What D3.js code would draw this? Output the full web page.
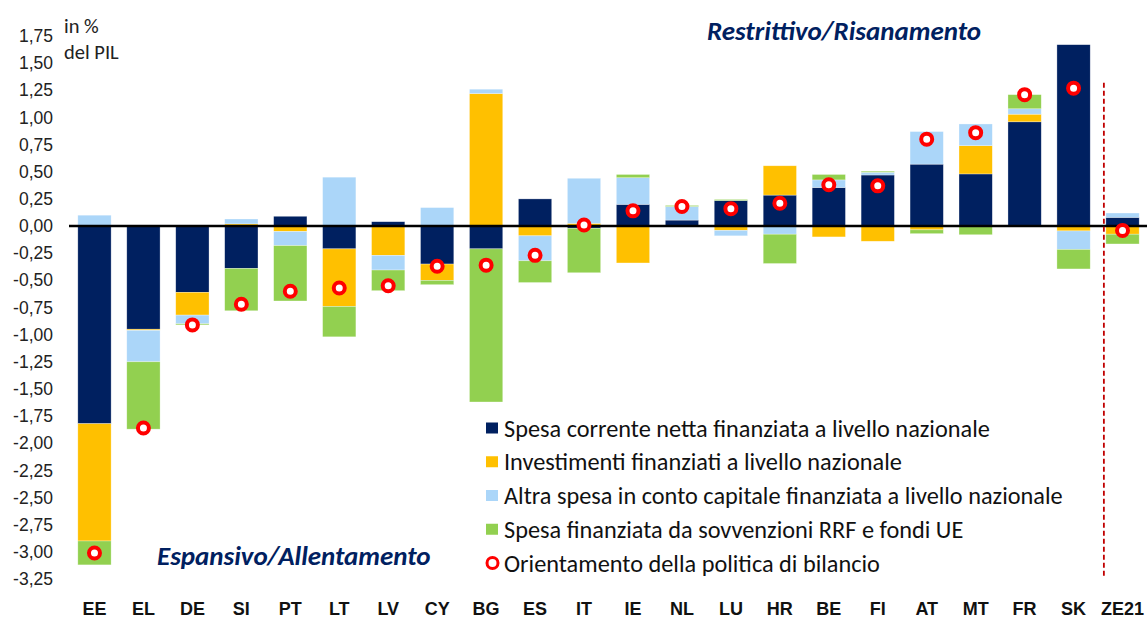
<!DOCTYPE html>
<html>
<head>
<meta charset="utf-8">
<script src="https://cdn.jsdelivr.net/npm/d3@7"></script>
<style>
  body { margin: 0; background: #fff; }
  svg { display: block; font-family: Carlito, Lato, "Liberation Sans", sans-serif; }
</style>
</head>
<body>
<svg id="grafica" width="1147" height="619"></svg>
<script>
// paesi
var categories = ["EE","EL","DE","SI","PT","LT","LV","CY","BG","ES","IT","IE","NL","LU","HR","BE","FI","AT","MT","FR","SK","ZE21"];

// componenti (in % del PIL)
var spesaCorrente = [-1.82,-0.95,-0.61,-0.39,0.09,-0.21,0.04,-0.35,-0.21,0.25,-0.02,0.20,0.055,0.235,0.285,0.355,0.47,0.57,0.48,0.96,1.67,0.08];
var investimenti  = [-1.08,-0.01,-0.21,0.02,-0.05,-0.53,-0.27,-0.15,1.22,-0.09,0.025,-0.34,0,-0.04,0.27,-0.10,-0.14,-0.035,0.26,0.07,-0.045,-0.075];
var altraSpesa    = [0.10,-0.29,-0.08,0.045,-0.13,0.45,-0.135,0.17,0.04,-0.23,0.415,0.245,0.125,-0.05,-0.075,0.07,0.025,0.30,0.20,0.05,-0.17,0.04];
var spesaRRF      = [-0.22,-0.62,-0.01,-0.39,-0.51,-0.28,-0.19,-0.04,-1.41,-0.20,-0.41,0.03,0.01,0.01,-0.27,0.05,0.01,-0.035,-0.08,0.13,-0.18,-0.09];
var orientamento  = [-3.01,-1.86,-0.91,-0.72,-0.60,-0.57,-0.55,-0.37,-0.36,-0.27,0.01,0.14,0.18,0.16,0.21,0.38,0.37,0.80,0.86,1.21,1.27,-0.04];

var seriesNames = [
  "Spesa corrente netta finanziata a livello nazionale",
  "Investimenti finanziati a livello nazionale",
  "Altra spesa in conto capitale finanziata a livello nazionale",
  "Spesa finanziata da sovvenzioni RRF e fondi UE"
];
var stanceName = "Orientamento della politica di bilancio";
var yTicks = [1.75,1.5,1.25,1,0.75,0.5,0.25,0,-0.25,-0.5,-0.75,-1,-1.25,-1.5,-1.75,-2,-2.25,-2.5,-2.75,-3,-3.25];

var colors = ["#002060", "#ffc000", "#abd6f9", "#92d050"];
var keys = ["s0","s1","s2","s3"];

var data = categories.map(function(c, i) {
  return { name: c, s0: spesaCorrente[i], s1: investimenti[i], s2: altraSpesa[i], s3: spesaRRF[i], stance: orientamento[i] };
});

var width = 1147, height = 619;
var svg = d3.select("#grafica");
svg.append("rect").attr("width", width).attr("height", height).attr("fill", "#fff");

var x = d3.scaleBand().domain(categories).range([70, 1147]).paddingInner(0.32).paddingOuter(0.16);
var y = d3.scaleLinear().domain([-3.25, 1.75]).range([579, 36]);

var itFormat = d3.formatLocale({ decimal: ",", thousands: ".", grouping: [3], currency: ["", "€"], minus: "-" }).format(".2f");

// asse y
svg.append("g")
  .attr("transform", "translate(53,0)")
  .call(d3.axisLeft(y).tickValues(yTicks).tickSize(0).tickPadding(0).tickFormat(itFormat))
  .call(function(g) { g.select(".domain").remove(); })
  .selectAll("text")
  .attr("font-size", 17.5)
  .attr("fill", "#222");

// asse x
svg.append("g")
  .attr("transform", "translate(0,598)")
  .call(d3.axisBottom(x).tickSize(0).tickPadding(4))
  .call(function(g) { g.select(".domain").remove(); })
  .selectAll("text")
  .attr("font-size", 18)
  .attr("font-weight", "bold")
  .attr("fill", "#111");

var stack = d3.stack().keys(keys).offset(d3.stackOffsetDiverging);
var layers = stack(data);

svg.append("g").selectAll("g")
  .data(layers)
  .enter()
  .append("g")
  .attr("fill", function(d, i) { return colors[i]; })
  .selectAll("rect")
  .data(function(d) { return d; })
  .enter()
  .append("rect")
  .attr("x", function(d) { return x(d.data.name); })
  .attr("width", x.bandwidth())
  .attr("y", function(d) { return y(Math.max(d[0], d[1])); })
  .attr("height", function(d) { return Math.abs(y(d[0]) - y(d[1])); })
  .attr("stroke", "#fff")
  .attr("stroke-opacity", 0.5)
  .attr("stroke-width", 0.6);

// linea dello zero
svg.append("line")
  .attr("x1", 69).attr("x2", 1147)
  .attr("y1", y(0)).attr("y2", y(0))
  .attr("stroke", "#000")
  .attr("stroke-width", 2.5);

// separatore ZE21
var sepX = x("ZE21") - 2;
svg.append("line")
  .attr("x1", sepX).attr("x2", sepX)
  .attr("y1", y(1.32)).attr("y2", y(-3.22))
  .attr("stroke", "#c00000")
  .attr("stroke-width", 1.8)
  .attr("stroke-dasharray", "5,3");

// orientamento
svg.append("g").selectAll("circle")
  .data(data)
  .enter()
  .append("circle")
  .attr("cx", function(d) { return x(d.name) + x.bandwidth() / 2; })
  .attr("cy", function(d) { return y(d.stance); })
  .attr("r", 5.5)
  .attr("fill", "#fff")
  .attr("stroke", "#ff0000")
  .attr("stroke-width", 4);

// etichette
svg.append("text").attr("x", 64).attr("y", 33).attr("font-size", 20.5).attr("fill", "#222").text("in %");
svg.append("text").attr("x", 64).attr("y", 59).attr("font-size", 20.5).attr("fill", "#222").text("del PIL");

svg.append("text")
  .attr("x", 707).attr("y", 40)
  .attr("font-size", 27).attr("font-weight", "bold").attr("font-style", "italic")
  .attr("fill", "#002060")
  .text("Restrittivo/Risanamento");
svg.append("text")
  .attr("x", 157).attr("y", 565)
  .attr("font-size", 27).attr("font-weight", "bold").attr("font-style", "italic")
  .attr("fill", "#002060")
  .text("Espansivo/Allentamento");

// legenda
var legend = svg.append("g").attr("transform", "translate(486,428)");
var rowH = 33.75;
seriesNames.forEach(function(name, i) {
  legend.append("rect")
    .attr("x", 0).attr("y", i * rowH - 5.5)
    .attr("width", 12).attr("height", 11)
    .attr("fill", colors[i]);
  legend.append("text")
    .attr("x", 18).attr("y", i * rowH)
    .attr("dy", "0.35em")
    .attr("font-size", 24.3)
    .attr("fill", "#111")
    .text(name);
});
legend.append("circle")
  .attr("cx", 6.5).attr("cy", 4 * rowH)
  .attr("r", 5.5)
  .attr("fill", "#fff")
  .attr("stroke", "#ff0000")
  .attr("stroke-width", 3);
legend.append("text")
  .attr("x", 18).attr("y", 4 * rowH)
  .attr("dy", "0.35em")
  .attr("font-size", 24.3)
  .attr("fill", "#111")
  .text(stanceName);
</script>
</body>
</html>
